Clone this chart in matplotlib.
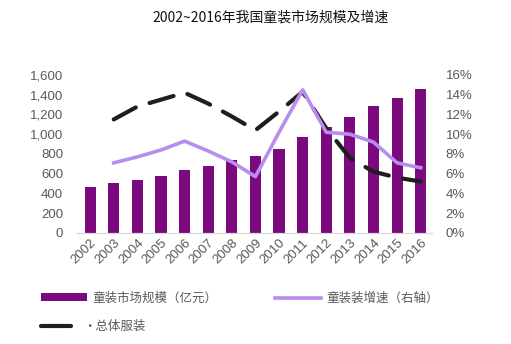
import matplotlib
matplotlib.use("Agg")
import matplotlib.pyplot as plt
from matplotlib.ticker import FuncFormatter, MultipleLocator
from matplotlib.lines import Line2D
from matplotlib.patches import Patch

plt.rcParams['font.family'] = ['Noto Sans CJK SC', 'DejaVu Sans']

years = ['2002', '2003', '2004', '2005', '2006', '2007', '2008', '2009',
         '2010', '2011', '2012', '2013', '2014', '2015', '2016']
market_size = [470, 510, 540, 580, 638, 680, 735, 778,
               850, 975, 1073, 1172, 1285, 1370, 1455]
kids_growth = [None, 7.1, 7.7, 8.4, 9.3, 8.3, 7.2, 5.7,
               10.2, 14.5, 10.2, 10.0, 9.2, 7.1, 6.6]
apparel_growth = [None, 11.5, 12.8, 13.5, 14.2, 13.1, 11.8, 10.4,
                  12.3, 14.3, 10.6, 7.6, 6.2, 5.6, 5.2]

bar_color = '#7A0A7E'
line_color = '#B98CF0'
dash_color = '#1E1E1E'
tick_color = '#595959'
num_font = ['Liberation Sans', 'DejaVu Sans']

fig = plt.figure(figsize=(5.11, 3.44), dpi=100)
ax = fig.add_axes([0.151, 0.323, 0.694, 0.459])
ax2 = ax.twinx()

x = list(range(len(years)))
ax.bar(x, market_size, width=0.47, color=bar_color, zorder=2)

xs_k = [i for i, v in zip(x, kids_growth) if v is not None]
ys_k = [v for v in kids_growth if v is not None]
xs_a = [i for i, v in zip(x, apparel_growth) if v is not None]
ys_a = [v for v in apparel_growth if v is not None]

ax2.plot(xs_a, ys_a, color=dash_color, lw=3.0, linestyle=(0, (6.0, 3.5)),
         solid_capstyle='round', dash_capstyle='round', zorder=3)
ax2.plot(xs_k, ys_k, color=line_color, lw=2.6, zorder=4,
         solid_joinstyle='round')

ax.set_xlim(-0.55, 14.47)
ax.set_ylim(0, 1600)
ax2.set_ylim(0, 16)
ax.yaxis.set_major_locator(MultipleLocator(200))
ax2.yaxis.set_major_locator(MultipleLocator(2))
ax.yaxis.set_major_formatter(FuncFormatter(lambda v, p: f'{int(v):,}'))
ax2.yaxis.set_major_formatter(FuncFormatter(lambda v, p: f'{int(v)}%'))

ax.set_xticks(x)
ax.set_xticklabels(years, rotation=45, ha='right', rotation_mode='anchor')

for a in (ax, ax2):
    for s in ('top', 'left', 'right'):
        a.spines[s].set_visible(False)
    a.spines['bottom'].set_color('#D9D9D9')
    a.tick_params(length=0, colors=tick_color, labelsize=9.5)
ax.tick_params(axis='y', pad=10)
ax2.tick_params(axis='y', pad=10)
ax.tick_params(axis='x', pad=3)
for lbl in ax.get_xticklabels() + ax.get_yticklabels() + ax2.get_yticklabels():
    lbl.set_family(num_font)

fig.text(0.53, 0.948, '2002~2016年我国童装市场规模及增速', ha='center', va='center',
         fontsize=10, color='#111111')

# legend
handles1 = [Patch(facecolor=bar_color, edgecolor='none'),
            Line2D([0], [0], color=line_color, lw=2.6)]
fig.legend(handles1, ['童装市场规模（亿元）', '童装装增速（右轴）'],
           loc='center left', bbox_to_anchor=(0.058, 0.133), ncol=2,
           frameon=False, fontsize=9, handlelength=3.7, handleheight=0.6,
           columnspacing=4.6, handletextpad=0.4, labelcolor=tick_color)
handles2 = [Line2D([0], [0], color=dash_color, lw=3, linestyle='-',
                   solid_capstyle='round')]
fig.legend(handles2, ['•总体服装'], loc='center left',
           bbox_to_anchor=(0.058, 0.05), frameon=False, fontsize=9,
           handlelength=2.4, handletextpad=1.0, labelcolor=tick_color)

fig.savefig('out.png', dpi=100)
